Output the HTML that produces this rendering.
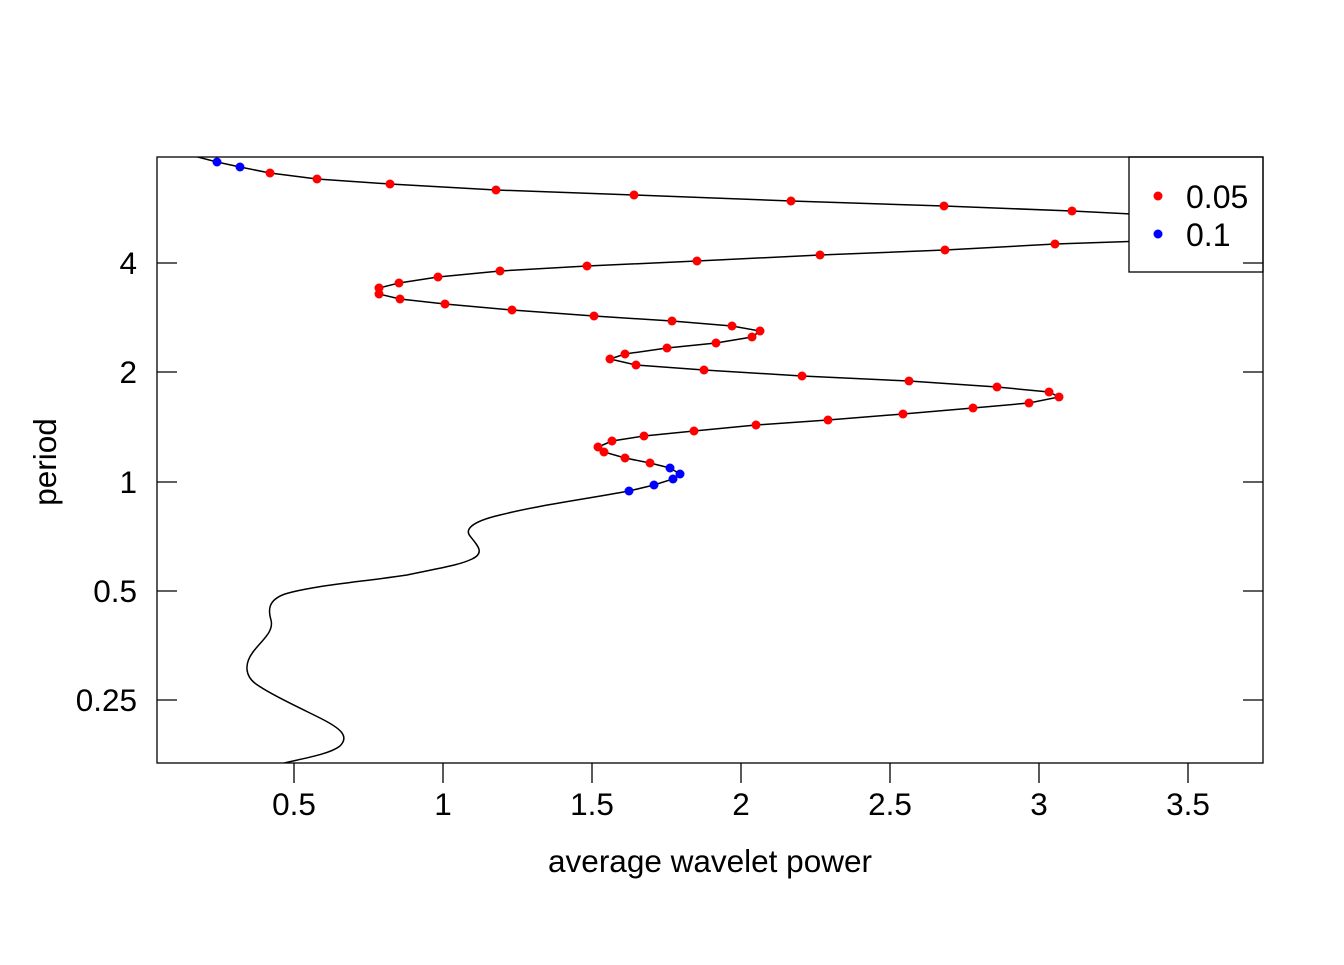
<!DOCTYPE html>
<html><head><style>body{margin:0;background:#fff}</style></head><body>
<svg width="1344" height="960" xmlns="http://www.w3.org/2000/svg" font-family="Liberation Sans, Arial, sans-serif">
<defs><clipPath id="c"><rect x="157" y="157" width="1106" height="606"/></clipPath></defs>
<g clip-path="url(#c)" fill="none" stroke="#000" stroke-width="1.5">
<polyline points="190,155 217,162 240,167 270,173 317,179 390,184 496,190 634,195 791,201 944,206 1072,211 1290,222 1290,236 1055,244 945,250 820,255 697,261 587,266 500,271 438,277 399,283 379,288 379,294 400,299 445,304 512,310 594,316 672,321 732,326 760,331 752,337 716,343 667,348 625,354 610,359 636,365 704,370 802,376 909,381 997,387 1049,392 1059,397 1029,403 973,408 903,414 828,420 756,425 694,431 644,436 612,441 598,447 604,452 625,458 650,463 670,468 680,474 673,479 654,485 629,491"/>
<path d="M629,491 C580,500 540,505 500,515 C470,522 465,530 470,536 C478,546 485,553 472,559 C460,565 440,568 407,575 C360,582 310,586 285,594 C268,600 268,610 271,620 C274,632 262,640 253,652 C244,664 245,676 256,684 C270,694 300,708 320,718 C340,728 350,736 340,746 C330,754 305,758 280,764"/>
</g>
<g fill="#ff0000">
<circle cx="270" cy="173" r="4.5"/><circle cx="317" cy="179" r="4.5"/><circle cx="390" cy="184" r="4.5"/><circle cx="496" cy="190" r="4.5"/><circle cx="634" cy="195" r="4.5"/><circle cx="791" cy="201" r="4.5"/><circle cx="944" cy="206" r="4.5"/><circle cx="1072" cy="211" r="4.5"/>
<circle cx="1055" cy="244" r="4.5"/><circle cx="945" cy="250" r="4.5"/><circle cx="820" cy="255" r="4.5"/><circle cx="697" cy="261" r="4.5"/><circle cx="587" cy="266" r="4.5"/><circle cx="500" cy="271" r="4.5"/><circle cx="438" cy="277" r="4.5"/><circle cx="399" cy="283" r="4.5"/><circle cx="379" cy="288" r="4.5"/><circle cx="379" cy="294" r="4.5"/><circle cx="400" cy="299" r="4.5"/><circle cx="445" cy="304" r="4.5"/><circle cx="512" cy="310" r="4.5"/><circle cx="594" cy="316" r="4.5"/><circle cx="672" cy="321" r="4.5"/><circle cx="732" cy="326" r="4.5"/><circle cx="760" cy="331" r="4.5"/><circle cx="752" cy="337" r="4.5"/><circle cx="716" cy="343" r="4.5"/><circle cx="667" cy="348" r="4.5"/><circle cx="625" cy="354" r="4.5"/><circle cx="610" cy="359" r="4.5"/><circle cx="636" cy="365" r="4.5"/><circle cx="704" cy="370" r="4.5"/><circle cx="802" cy="376" r="4.5"/><circle cx="909" cy="381" r="4.5"/><circle cx="997" cy="387" r="4.5"/><circle cx="1049" cy="392" r="4.5"/><circle cx="1059" cy="397" r="4.5"/><circle cx="1029" cy="403" r="4.5"/><circle cx="973" cy="408" r="4.5"/><circle cx="903" cy="414" r="4.5"/><circle cx="828" cy="420" r="4.5"/><circle cx="756" cy="425" r="4.5"/><circle cx="694" cy="431" r="4.5"/><circle cx="644" cy="436" r="4.5"/><circle cx="612" cy="441" r="4.5"/><circle cx="598" cy="447" r="4.5"/><circle cx="604" cy="452" r="4.5"/><circle cx="625" cy="458" r="4.5"/><circle cx="650" cy="463" r="4.5"/>
</g>
<g fill="#0000ff">
<circle cx="217" cy="162" r="4.5"/><circle cx="240" cy="167" r="4.5"/>
<circle cx="670" cy="468" r="4.5"/><circle cx="680" cy="474" r="4.5"/><circle cx="673" cy="479" r="4.5"/><circle cx="654" cy="485" r="4.5"/><circle cx="629" cy="491" r="4.5"/>
</g>
<rect x="1129" y="157" width="134" height="115" fill="#fff" stroke="#000" stroke-width="1.3"/>
<circle cx="1158" cy="196" r="4.5" fill="#ff0000"/><circle cx="1158" cy="234" r="4.5" fill="#0000ff"/>
<text x="1186" y="208" font-size="32">0.05</text><text x="1186" y="246" font-size="32">0.1</text>
<rect x="157" y="157" width="1106" height="606" fill="none" stroke="#000" stroke-width="1.3"/>
<g stroke="#000" stroke-width="1.3">
<line x1="294" y1="763" x2="294" y2="783"/><line x1="443" y1="763" x2="443" y2="783"/><line x1="592" y1="763" x2="592" y2="783"/><line x1="741" y1="763" x2="741" y2="783"/><line x1="890" y1="763" x2="890" y2="783"/><line x1="1039" y1="763" x2="1039" y2="783"/><line x1="1188" y1="763" x2="1188" y2="783"/>
<line x1="157" y1="263" x2="177" y2="263"/><line x1="157" y1="372" x2="177" y2="372"/><line x1="157" y1="482" x2="177" y2="482"/><line x1="157" y1="591" x2="177" y2="591"/><line x1="157" y1="700" x2="177" y2="700"/>
<line x1="1243" y1="263" x2="1263" y2="263"/><line x1="1243" y1="372" x2="1263" y2="372"/><line x1="1243" y1="482" x2="1263" y2="482"/><line x1="1243" y1="591" x2="1263" y2="591"/><line x1="1243" y1="700" x2="1263" y2="700"/>
</g>
<g font-size="31.5" text-anchor="middle">
<text x="294" y="815">0.5</text><text x="443" y="815">1</text><text x="592" y="815">1.5</text><text x="741" y="815">2</text><text x="890" y="815">2.5</text><text x="1039" y="815">3</text><text x="1188" y="815">3.5</text>
<text x="710" y="872">average wavelet power</text>
</g>
<g font-size="31.5" text-anchor="end">
<text x="137" y="274">4</text><text x="137" y="383">2</text><text x="137" y="493">1</text><text x="137" y="602">0.5</text><text x="137" y="711">0.25</text>
</g>
<text x="0" y="0" font-size="31.5" text-anchor="middle" transform="translate(56,462) rotate(-90)">period</text>
</svg>
</body></html>
